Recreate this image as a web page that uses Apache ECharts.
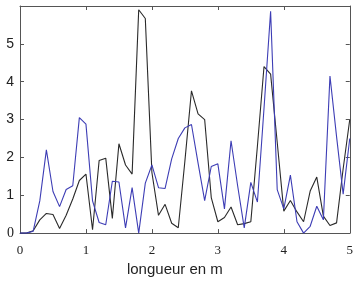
<!DOCTYPE html>
<html><head><meta charset="utf-8">
<script src="https://cdn.jsdelivr.net/npm/echarts@6/dist/echarts.min.js"></script>
<style>html,body{margin:0;padding:0;background:#fff}#c{width:356px;height:282px}</style>
</head><body><div id="c"></div>
<script>
const xStep = 0.1;
const xTicks = [0, 1, 2, 3, 4, 5];
const yTicks = [0, 1, 2, 3, 4, 5];
const blackSeries = [0, 0, 0.06, 0.35, 0.52, 0.49, 0.12, 0.47, 0.9, 1.39,
  1.56, 0.09, 1.92, 1.98, 0.39, 2.36, 1.8, 1.56, 5.9, 5.67,
  1.6, 0.47, 0.76, 0.26, 0.14, 1.9, 3.76, 3.15, 3.0, 0.94,
  0.3, 0.41, 0.69, 0.22, 0.25, 0.3, 2.3, 4.4, 4.2, 2.4,
  0.58, 0.86, 0.56, 0.3, 1.11, 1.48, 0.45, 0.2, 0.27, 1.7, 3.0];
const blueSeries = [0, 0, 0.05, 0.85, 2.2, 1.1, 0.7, 1.15, 1.25, 3.05,
  2.88, 0.85, 0.28, 0.22, 1.37, 1.35, 0.14, 1.2, 0, 1.32,
  1.8, 1.2, 1.18, 1.96, 2.5, 2.78, 2.87, 1.85, 0.86, 1.76,
  1.83, 0.64, 2.44, 1.25, 0.14, 1.34, 0.82, 3.3, 5.86, 1.15,
  0.64, 1.53, 0.3, 0, 0.18, 0.71, 0.35, 4.15, 2.55, 1.03, 2.5];
const xName = 'longueur en m';

const toPairs = arr => arr.map((v, i) => [+(i * xStep).toFixed(2), v]);
const axisColor = '#555';
const chart = echarts.init(document.getElementById('c'), null, {renderer: 'canvas'});
const baseX = {
  type: 'value', min: xTicks[0], max: xTicks[xTicks.length - 1], interval: 1,
  axisLine: {show: true, onZero: false, lineStyle: {color: axisColor, width: 1}},
  axisTick: {show: true, inside: true, length: 4, lineStyle: {color: axisColor}},
  splitLine: {show: false}
};
const baseY = {
  type: 'value', min: 0, max: 6, interval: 1,
  axisLine: {show: true, onZero: false, lineStyle: {color: axisColor, width: 1}},
  axisTick: {show: true, inside: true, length: 4, lineStyle: {color: axisColor}},
  splitLine: {show: false}
};
chart.setOption({
  animation: false,
  backgroundColor: '#fff',
  grid: {left: 20, right: 5, top: 6, bottom: 40, containLabel: false},
  xAxis: [
    Object.assign({}, baseX, {
      position: 'bottom',
      axisLabel: {show: true, margin: 11, color: '#222', fontFamily: 'Liberation Serif', fontSize: 13,
        formatter: v => xTicks.includes(v) ? String(v) : ''},
      name: xName, nameLocation: 'middle', nameGap: 26,
      nameTextStyle: {fontFamily: 'Liberation Sans', fontSize: 15, color: '#222', padding: [0, 20, 0, 0]}
    }),
    Object.assign({}, baseX, {position: 'top', axisLabel: {show: false}})
  ],
  yAxis: [
    Object.assign({}, baseY, {
      position: 'left',
      axisLabel: {show: true, margin: 6, color: '#222', fontFamily: 'Liberation Sans', fontSize: 14,
        formatter: v => v === 0 ? '{s|0}' : (yTicks.includes(v) ? String(v) : ''),
        rich: {s: {fontFamily: 'Liberation Serif', fontSize: 14, color: '#222'}}}
    }),
    Object.assign({}, baseY, {position: 'right', axisLabel: {show: false}})
  ],
  series: [
    {type: 'line', data: toPairs(blackSeries), xAxisIndex: 0, yAxisIndex: 0, showSymbol: false,
      lineStyle: {color: '#2a2a2a', width: 1.1}, itemStyle: {color: '#2a2a2a'}, clip: true},
    {type: 'line', data: toPairs(blueSeries), xAxisIndex: 0, yAxisIndex: 0, showSymbol: false,
      lineStyle: {color: '#3d3db5', width: 1.1}, itemStyle: {color: '#3d3db5'}, clip: true, z: 3}
  ]
});
</script></body></html>
